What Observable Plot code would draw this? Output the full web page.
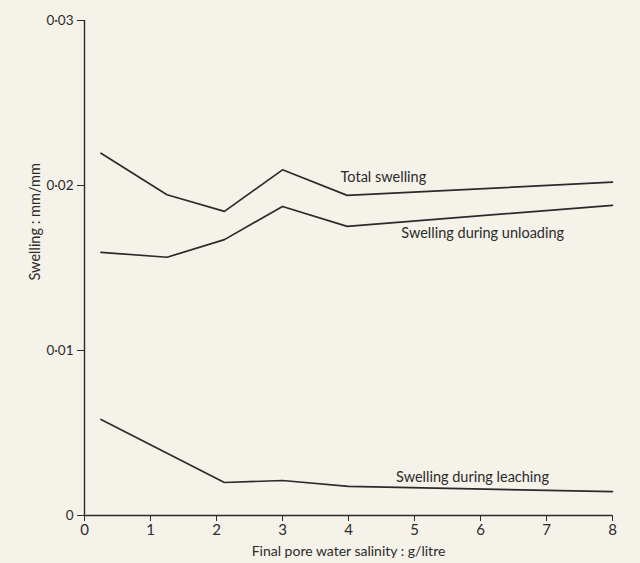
<!DOCTYPE html>
<html>
<head>
<meta charset="utf-8">
<script src="https://cdn.jsdelivr.net/npm/d3@7"></script>
<script src="https://cdn.jsdelivr.net/npm/@observablehq/plot@0.6"></script>
<style>
  html, body { margin: 0; padding: 0; background: #f5f2e9; }
</style>
</head>
<body>
<div id="chart"></div>
<script>
// Data
const salinityX = [0.25, 1.25, 2.12, 3.0, 3.98, 8];
const totalSwelling = [0.02195, 0.01944, 0.01843, 0.02095, 0.0194, 0.0202];
const unloadingSwelling = [0.01595, 0.01565, 0.01672, 0.01873, 0.01752, 0.0188];
const leachingX = [0.25, 2.12, 3.0, 4.0, 8];
const leachingSwelling = [0.00582, 0.0020, 0.00212, 0.00176, 0.00145];

const xTicks = [0, 1, 2, 3, 4, 5, 6, 7, 8];
const yTicks = [0, 0.01, 0.02, 0.03];

const seriesLabels = ["Total swelling", "Swelling during unloading", "Swelling during leaching"];
const labelX = [3.88, 4.8, 4.72];
const labelY = [0.0205, 0.0171, 0.0023];

const rows = (xs, ys, name) => xs.map((x, i) => ({x, y: ys[i], series: name}));
const lineData = [
  ...rows(salinityX, totalSwelling, seriesLabels[0]),
  ...rows(salinityX, unloadingSwelling, seriesLabels[1]),
  ...rows(leachingX, leachingSwelling, seriesLabels[2])
];
const labelData = seriesLabels.map((t, i) => ({t, x: labelX[i], y: labelY[i]}));

const fmt = d => d === 0 ? "0" : d.toFixed(2).replace(".", "\u00B7");
const ink = "#2b2b2b";

const chart = Plot.plot({
  width: 640,
  height: 563,
  marginLeft: 84,
  marginRight: 28,
  marginTop: 20,
  marginBottom: 48,
  style: {background: "#f5f2e9", fontFamily: "Lato, 'Open Sans', sans-serif", color: ink},
  x: {domain: [0, 8]},
  y: {domain: [0, 0.03]},
  marks: [
    Plot.axisX({ticks: xTicks, tickSize: 6, tickPadding: 3, fontSize: 15, stroke: ink, label: null}),
    Plot.axisX({ticks: [], tickSize: 0, fontSize: 14,
      label: "Final pore water salinity : g/litre", labelAnchor: "center", labelArrow: "none", labelOffset: 40}),
    Plot.axisY({ticks: yTicks, tickFormat: fmt, tickSize: 7, tickPadding: 4, fontSize: 13.5, stroke: ink, label: null}),
    Plot.ruleY([0], {stroke: ink, strokeWidth: 1.4}),
    Plot.ruleX([0], {stroke: ink, strokeWidth: 1.4}),
    Plot.line(lineData, {x: "x", y: "y", z: "series", stroke: ink, strokeWidth: 1.7}),
    Plot.text(labelData, {x: "x", y: "y", text: "t", textAnchor: "start", fontSize: 14.5, fill: ink}),
    Plot.text(["Swelling : mm/mm"], {y: [0.0178], frameAnchor: "left", textAnchor: "middle", dx: -49, rotate: -90, fontSize: 14.5, fill: ink})
  ]
});
document.getElementById("chart").append(chart);
</script>
</body>
</html>
